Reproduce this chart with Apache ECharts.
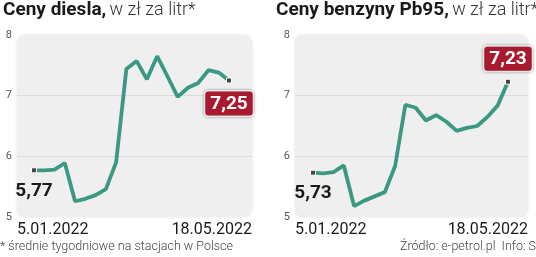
<!DOCTYPE html>
<html><head><meta charset="utf-8">
<script src="https://cdn.jsdelivr.net/npm/echarts@6/dist/echarts.min.js"></script>
<style>html,body{margin:0;padding:0;background:#fff}#c{width:536px;height:257px}</style>
</head><body><div id="c"></div>
<script>
const weeks = ['5.01','12.01','19.01','26.01','2.02','9.02','16.02','23.02','2.03','9.03','16.03','23.03','30.03','6.04','13.04','20.04','27.04','4.05','11.05','18.05'];
const diesel = [5.77,5.77,5.78,5.89,5.26,5.30,5.36,5.46,5.90,7.44,7.57,7.27,7.65,7.32,6.98,7.13,7.21,7.42,7.38,7.25];
const pb95 = [5.73,5.72,5.74,5.85,5.18,5.27,5.34,5.41,5.84,6.85,6.80,6.59,6.68,6.57,6.42,6.47,6.50,6.65,6.84,7.23];
const xTickLabels = ['5.01.2022','18.05.2022'];
const yTicks = [5,6,7,8];

const TEAL = '#3b9983';
const RED = '#a81a30';
const chart = echarts.init(document.getElementById('c'), null, {renderer:'canvas'});

function fmt(v){ return v.toFixed(2).replace('.', ','); }

function seriesData(vals, lastPos, lastDist){
  return vals.map((v,i)=>{
    const item = {value:[i,v]};
    if(i===0){
      item.symbol='rect'; item.symbolSize=5;
      item.itemStyle={color:'#444',borderColor:'#fff',borderWidth:1};
      item.label={show:true,position:'bottom',distance:8,formatter:()=>fmt(v),
        fontFamily:'Roboto',fontWeight:'bold',fontSize:19,color:'#1a1a1a'};
    } else if(i===vals.length-1){
      item.symbol='rect'; item.symbolSize=5;
      item.itemStyle={color:'#444',borderColor:'#fff',borderWidth:1};
      item.label={show:true,position:lastPos,distance:lastDist,formatter:()=>fmt(v),
        fontFamily:'Roboto',fontWeight:'bold',fontSize:19,color:'#fff',
        backgroundColor:RED,borderColor:'#fff',borderWidth:1.5,borderRadius:3,
        padding:[3,5,2,5],shadowBlur:3,shadowColor:'rgba(0,0,0,0.35)'};
    } else {
      item.symbol='none';
    }
    return item;
  });
}

const grids = [
  {left:17, top:35, width:235, height:182},
  {left:295, top:35, width:233, height:182}
];
const xr = [
  {min:-(34-17)/10.263, max:19+(252-229)/10.263},
  {min:-(313-295)/10.263, max:19+(528-508)/10.263}
];

function xAxis(gi){
  return {type:'value', gridIndex:gi, min:xr[gi].min, max:xr[gi].max,
    axisLine:{show:false}, axisTick:{show:false}, splitLine:{show:false},
    axisLabel:{show:true, customValues:[xr[gi].min, xr[gi].max],
      alignMinLabel:'left', alignMaxLabel:'right', margin:5,
      fontFamily:'Roboto', fontSize:16, color:'#1a1a1a',
      formatter:(v)=> v < 5 ? xTickLabels[0] : xTickLabels[1]}};
}
function yAxis(gi){
  return {type:'value', gridIndex:gi, min:yTicks[0], max:yTicks[yTicks.length-1], interval:1,
    axisLine:{show:false}, axisTick:{show:false},
    splitLine:{show:true, lineStyle:{color:['rgba(0,0,0,0)','#d9d9d9','#d9d9d9','rgba(0,0,0,0)'], width:1}},
    axisLabel:{margin:5, fontFamily:'Roboto', fontSize:11, color:'#555'}};
}

chart.setOption({
  animation:false,
  grid:grids,
  xAxis:[xAxis(0), xAxis(1)],
  yAxis:[yAxis(0), yAxis(1)],
  graphic:[
    {type:'rect', z:-10, shape:{x:17,y:35,width:235,height:182,r:8}, style:{fill:'#efefef', shadowBlur:3, shadowColor:'rgba(0,0,0,0.12)'}},
    {type:'rect', z:-10, shape:{x:295,y:35,width:233,height:182,r:8}, style:{fill:'#efefef', shadowBlur:3, shadowColor:'rgba(0,0,0,0.12)'}},
    {type:'text', left:3, top:1, style:{text:'{b|Ceny diesla,} {n|w zł za litr*}', rich:{
      b:{fontFamily:'Roboto', fontWeight:'bold', fontSize:19, fill:'#1a1a1a'},
      n:{fontFamily:'Roboto', fontWeight:300, fontSize:18, fill:'#333'}}}},
    {type:'text', left:276, top:1, style:{text:'{b|Ceny benzyny Pb95,} {n|w zł za litr*}', rich:{
      b:{fontFamily:'Roboto', fontWeight:'bold', fontSize:19, fill:'#1a1a1a'},
      n:{fontFamily:'Roboto', fontWeight:300, fontSize:18, fill:'#333'}}}},
    {type:'text', left:0, top:240, style:{text:'* średnie tygodniowe na stacjach w Polsce', font:'300 12.5px Roboto', fill:'#444'}},
    {type:'text', right:0, top:240, style:{text:'Źródło: e-petrol.pl  Info: S', font:'300 12.5px Roboto', fill:'#444'}}
  ],
  series:[
    {type:'line', xAxisIndex:0, yAxisIndex:0, data:seriesData(diesel,'bottom',8),
      lineStyle:{color:TEAL,width:3.8}, itemStyle:{color:TEAL}, z:3},
    {type:'line', xAxisIndex:1, yAxisIndex:1, data:seriesData(pb95,'top',8),
      lineStyle:{color:TEAL,width:3.8}, itemStyle:{color:TEAL}, z:3}
  ]
});
</script></body></html>
